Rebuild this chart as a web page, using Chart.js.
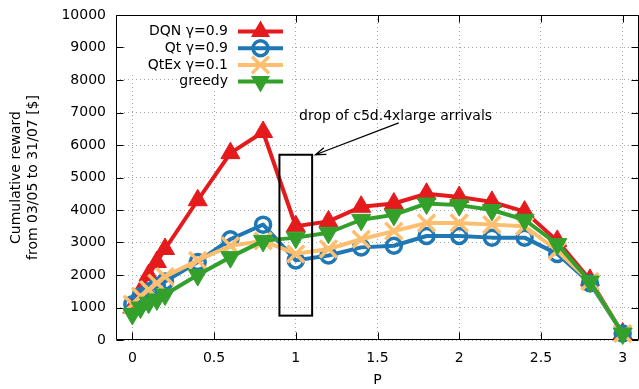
<!DOCTYPE html>
<html>
<head>
<meta charset="utf-8">
<script src="https://cdn.jsdelivr.net/npm/chart.js@4/dist/chart.umd.min.js"></script>
<style>
  html, body { margin: 0; padding: 0; background: #fff; }
  canvas { display: block; }
</style>
</head>
<body>
<canvas id="c" width="639" height="389"></canvas>
<script>
// P values at which each policy was evaluated
const P = [0, 0.05, 0.1, 0.15, 0.2, 0.4, 0.6, 0.8, 1.0, 1.2, 1.4, 1.6, 1.8, 2.0, 2.2, 2.4, 2.6, 2.8, 3.0];

// Cumulative reward [$] per policy
const dqn    = [1000, 1500, 2000, 2400, 2800, 4300, 5750, 6400, 3500, 3650, 4100, 4200, 4500, 4400, 4250, 3950, 3050, 1850, 200];
const qt     = [1100, 1350, 1500, 1650, 1800, 2400, 3100, 3550, 2450, 2600, 2850, 2900, 3200, 3200, 3150, 3150, 2650, 1750, 200];
const qtex   = [1100, 1350, 1550, 1750, 1950, 2450, 2900, 3050, 2650, 2800, 3100, 3350, 3600, 3600, 3550, 3500, 2750, 1800, 200];
const greedy = [ 800, 1000, 1150, 1250, 1400, 2000, 2550, 3050, 3150, 3300, 3700, 3850, 4200, 4150, 4000, 3700, 2950, 1800, 200];

// Axis ticks
const xTicks = [0, 0.5, 1, 1.5, 2, 2.5, 3];
const yTicks = [0, 1000, 2000, 3000, 4000, 5000, 6000, 7000, 8000, 9000, 10000];

// Highlighted region and its note
const boxX = [0.9, 1.1];
const boxY = [750, 5700];
const noteText = 'drop of c5d.4xlarge arrivals';
const notePos = [1.02, 6890];
const arrowFrom = [1.63, 6680];
const arrowTo = [1.12, 5700];

const FONT = 'DejaVu Sans';
const pts = vals => P.map((p, i) => ({ x: p, y: vals[i] }));

// Small marker painters for the key
function markTriangle(ctx, x, y, r, rot, color) {
  ctx.save();
  ctx.translate(x, y);
  ctx.rotate(rot);
  ctx.beginPath();
  for (let k = 0; k < 3; k++) {
    const a = -Math.PI / 2 + k * 2 * Math.PI / 3;
    const px = Math.cos(a) * r, py = Math.sin(a) * r;
    if (k === 0) ctx.moveTo(px, py); else ctx.lineTo(px, py);
  }
  ctx.closePath();
  ctx.fillStyle = color;
  ctx.fill();
  ctx.restore();
}
function markCircle(ctx, x, y, r, w, color) {
  ctx.save();
  ctx.beginPath();
  ctx.arc(x, y, r, 0, Math.PI * 2);
  ctx.lineWidth = w;
  ctx.strokeStyle = color;
  ctx.stroke();
  ctx.restore();
}
function markCross(ctx, x, y, r, w, color) {
  const d = r * Math.SQRT1_2;
  ctx.save();
  ctx.beginPath();
  ctx.moveTo(x - d, y - d); ctx.lineTo(x + d, y + d);
  ctx.moveTo(x - d, y + d); ctx.lineTo(x + d, y - d);
  ctx.lineWidth = w;
  ctx.strokeStyle = color;
  ctx.stroke();
  ctx.restore();
}

// Frame with inward tick marks on all four sides
const framePlugin = {
  id: 'frame',
  beforeDatasetsDraw(chart) {
    const { ctx, chartArea: a, scales: { x, y } } = chart;
    const L = Math.round(a.left) + 0.5, R = Math.round(a.right) - 0.5;
    const T = Math.round(a.top) + 0.5, B = Math.round(a.bottom) - 0.5;
    const len = 7;
    ctx.save();
    ctx.strokeStyle = '#000';
    ctx.lineWidth = 1;
    ctx.beginPath();
    ctx.rect(L, T, R - L, B - T);
    xTicks.forEach(v => {
      const px = Math.round(x.getPixelForValue(v)) + 0.5;
      ctx.moveTo(px, B); ctx.lineTo(px, B - len);
      ctx.moveTo(px, T); ctx.lineTo(px, T + len);
    });
    yTicks.forEach(v => {
      const py = Math.round(y.getPixelForValue(v)) + 0.5;
      ctx.moveTo(L, py); ctx.lineTo(L + len, py);
      ctx.moveTo(R, py); ctx.lineTo(R - len, py);
    });
    ctx.stroke();
    ctx.restore();
  }
};

// Box, arrow and note marking the drop
const notePlugin = {
  id: 'note',
  afterDatasetsDraw(chart) {
    const { ctx, scales: { x, y } } = chart;
    ctx.save();
    ctx.strokeStyle = '#000';
    ctx.lineWidth = 2;
    const x0 = x.getPixelForValue(boxX[0]), x1 = x.getPixelForValue(boxX[1]);
    const y0 = y.getPixelForValue(boxY[1]), y1 = y.getPixelForValue(boxY[0]);
    ctx.strokeRect(x0, y0, x1 - x0, y1 - y0);

    const ax = x.getPixelForValue(arrowFrom[0]), ay = y.getPixelForValue(arrowFrom[1]);
    const bx = x.getPixelForValue(arrowTo[0]), by = y.getPixelForValue(arrowTo[1]);
    ctx.lineWidth = 1.3;
    ctx.beginPath();
    ctx.moveTo(ax, ay); ctx.lineTo(bx, by);
    const ang = Math.atan2(ay - by, ax - bx);
    const hl = 11, ha = 0.33;
    ctx.moveTo(bx + Math.cos(ang + ha) * hl, by + Math.sin(ang + ha) * hl);
    ctx.lineTo(bx, by);
    ctx.lineTo(bx + Math.cos(ang - ha) * hl, by + Math.sin(ang - ha) * hl);
    ctx.stroke();

    ctx.fillStyle = '#000';
    ctx.font = '14px "' + FONT + '"';
    ctx.textAlign = 'left';
    ctx.textBaseline = 'middle';
    ctx.fillText(noteText, x.getPixelForValue(notePos[0]), y.getPixelForValue(notePos[1]));
    ctx.restore();
  }
};

// Key in the top-left corner: text, line sample and marker per series
const keyPlugin = {
  id: 'key',
  afterDatasetsDraw(chart) {
    const { ctx, chartArea: a } = chart;
    const textRight = a.left + 112;
    const lineL = a.left + 122, lineR = a.left + 167;
    const mid = (lineL + lineR) / 2;
    const rowY = k => a.top + 16.5 + k * 16.7;
    ctx.save();
    ctx.fillStyle = '#fff';
    ctx.fillRect(a.left + 9, a.top + 1, 166, 56);
    ctx.fillRect(a.left + 61, a.top + 57, 114, 18);
    ctx.font = '14px "' + FONT + '"';
    ctx.textAlign = 'right';
    ctx.textBaseline = 'middle';
    chart.data.datasets.forEach((ds, k) => {
      const yy = rowY(k);
      ctx.fillStyle = '#000';
      ctx.fillText(ds.label, textRight, yy);
      ctx.beginPath();
      ctx.moveTo(lineL, yy); ctx.lineTo(lineR, yy);
      ctx.lineWidth = ds.borderWidth;
      ctx.strokeStyle = ds.borderColor;
      ctx.stroke();
      if (ds.pointStyle === 'triangle') {
        markTriangle(ctx, mid, yy, ds.pointRadius, (ds.pointRotation || 0) * Math.PI / 180, ds.borderColor);
      } else if (ds.pointStyle === 'circle') {
        markCircle(ctx, mid, yy, ds.pointRadius, ds.pointBorderWidth, ds.borderColor);
      } else {
        markCross(ctx, mid, yy, ds.pointRadius, ds.pointBorderWidth, ds.borderColor);
      }
    });
    ctx.restore();
  }
};

const lineStyle = { borderWidth: 4, borderJoinStyle: 'round', borderCapStyle: 'round', tension: 0, clip: false, fill: false };

new Chart(document.getElementById('c'), {
  type: 'line',
  data: {
    datasets: [
      Object.assign({ label: 'DQN γ=0.9', data: pts(dqn), borderColor: '#e41a1c', backgroundColor: '#e41a1c',
        pointStyle: 'triangle', pointRadius: 11, pointBorderWidth: 1, pointBackgroundColor: '#e41a1c', order: 4 }, lineStyle),
      Object.assign({ label: 'Qt γ=0.9', data: pts(qt), borderColor: '#1f78b4', backgroundColor: '#1f78b4',
        pointStyle: 'circle', pointRadius: 7.5, pointBorderWidth: 3.5, pointBackgroundColor: 'rgba(0,0,0,0)', order: 3 }, lineStyle),
      Object.assign({ label: 'QtEx γ=0.1', data: pts(qtex), borderColor: '#fdbf6f', backgroundColor: '#fdbf6f',
        pointStyle: 'crossRot', pointRadius: 12, pointBorderWidth: 3.5, order: 2 }, lineStyle),
      Object.assign({ label: 'greedy', data: pts(greedy), borderColor: '#33a02c', backgroundColor: '#33a02c',
        pointStyle: 'triangle', pointRotation: 180, pointRadius: 11, pointBorderWidth: 1, pointBackgroundColor: '#33a02c', order: 1 }, lineStyle)
    ]
  },
  options: {
    responsive: false,
    animation: false,
    devicePixelRatio: 1,
    layout: { autoPadding: false, padding: { top: 15, right: 0, bottom: 0, left: 0 } },
    plugins: { legend: { display: false }, tooltip: { enabled: false } },
    elements: { point: { hoverRadius: 0 } },
    scales: {
      x: {
        type: 'linear', min: -0.1, max: 3.1,
        afterBuildTicks: s => { s.ticks = xTicks.map(v => ({ value: v })); },
        afterFit: s => { s.height = 49; s.paddingLeft = 0; s.paddingRight = 0; },
        ticks: { padding: 10, color: '#000', font: { family: FONT, size: 14 }, maxRotation: 0, autoSkip: false,
                 callback: v => String(v) },
        grid: { color: '#a8a8a8', lineWidth: 1, drawTicks: false },
        border: { display: false, dash: [1, 3] },
        title: { display: true, text: 'P', color: '#000', font: { family: FONT, size: 14 }, padding: { top: 0, bottom: 0 } }
      },
      y: {
        type: 'linear', min: 0, max: 10000,
        afterBuildTicks: s => { s.ticks = yTicks.map(v => ({ value: v })); },
        afterFit: s => { s.width = 116; s.paddingTop = 0; s.paddingBottom = 0; },
        ticks: { padding: 10, color: '#000', font: { family: FONT, size: 14 }, autoSkip: false,
                 callback: v => String(v) },
        grid: { color: '#a8a8a8', lineWidth: 1, drawTicks: false },
        border: { display: false, dash: [1, 3] },
        title: { display: true, text: ['Cumulative reward', 'from 03/05 to 31/07 [$]'], color: '#000',
                 font: { family: FONT, size: 14 }, padding: { top: 8, bottom: 0 } }
      }
    }
  },
  plugins: [framePlugin, notePlugin, keyPlugin]
});
</script>
</body>
</html>
